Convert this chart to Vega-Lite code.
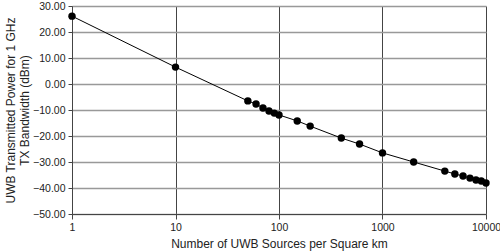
{
  "$schema": "https://vega.github.io/schema/vega-lite/v6.json",
  "width": 414,
  "height": 208,
  "autosize": {"type": "none"},
  "padding": {"left": 72, "top": 6, "right": 14, "bottom": 37},
  "background": "white",
  "config": {
    "view": {"stroke": null},
    "font": "Liberation Sans",
    "axis": {"labelFont": "Liberation Sans", "titleFont": "Liberation Sans", "labelColor": "#222", "titleColor": "#222", "titleFontWeight": "normal", "labelFontSize": 10.5, "titleFontSize": 12}
  },
  "data": {
    "values": [
      {"n": 1, "p": 26.1},
      {"n": 10, "p": 6.5},
      {"n": 50, "p": -6.5},
      {"n": 60, "p": -7.7},
      {"n": 70, "p": -9.2},
      {"n": 80, "p": -10.4},
      {"n": 90, "p": -11.2},
      {"n": 100, "p": -11.9},
      {"n": 150, "p": -14.2},
      {"n": 200, "p": -16.2},
      {"n": 400, "p": -20.8},
      {"n": 600, "p": -23.1},
      {"n": 1000, "p": -26.5},
      {"n": 2000, "p": -30.0},
      {"n": 4000, "p": -33.5},
      {"n": 5000, "p": -34.6},
      {"n": 6000, "p": -35.4},
      {"n": 7000, "p": -36.2},
      {"n": 8000, "p": -36.9},
      {"n": 9000, "p": -37.3},
      {"n": 10000, "p": -38.1}
    ]
  },
  "encoding": {
    "x": {
      "field": "n", "type": "quantitative",
      "scale": {"type": "log", "domain": [1, 10000], "nice": false},
      "axis": {"values": [1, 10, 100, 1000, 10000], "format": "d", "title": "Number of UWB Sources per Square km",
        "grid": true, "gridColor": "#444", "gridWidth": 1, "gridOpacity": 1,
        "domainColor": "#444", "tickColor": "#444", "tickSize": 5, "labelPadding": 3, "titlePadding": 6, "labelFlush": false}
    },
    "y": {
      "field": "p", "type": "quantitative",
      "scale": {"domain": [-50, 30], "nice": false, "zero": false},
      "axis": {"values": [-50, -40, -30, -20, -10, 0, 10, 20, 30], "format": ".2f",
        "title": ["UWB Transmitted Power for 1 GHz", "TX Bandwidth (dBm)"],
        "grid": true, "gridColor": "#999", "gridWidth": 1.5, "gridOpacity": 1,
        "domainColor": "#444", "tickColor": "#444", "tickSize": 4, "labelPadding": 3, "titlePadding": 1, "titleLineHeight": 14}
    }
  },
  "layer": [
    {"mark": {"type": "line", "color": "black", "strokeWidth": 1}},
    {"mark": {"type": "point", "filled": true, "color": "black", "opacity": 1, "size": 55}}
  ]
}
